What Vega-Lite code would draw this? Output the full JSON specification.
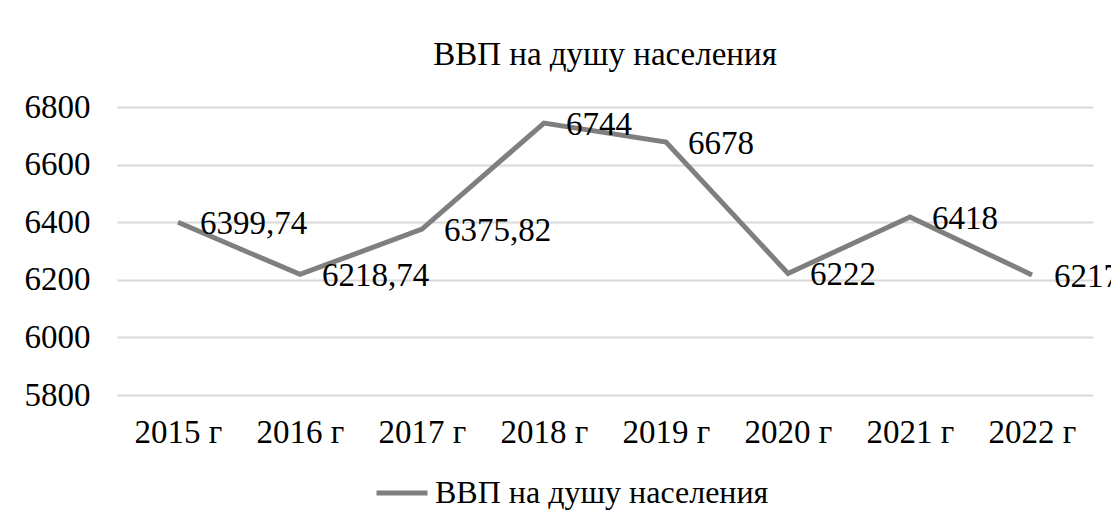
{
  "$schema": "https://vega.github.io/schema/vega-lite/v6.json",
  "width": 976,
  "height": 288,
  "autosize": "none",
  "padding": {"left": 117, "top": 107, "right": 18, "bottom": 132},
  "background": "white",
  "title": {
    "text": "ВВП на душу населения",
    "font": "Liberation Serif",
    "fontSize": 33,
    "fontWeight": "normal",
    "color": "#000000",
    "anchor": "middle",
    "baseline": "middle",
    "offset": 3
  },
  "data": {
    "values": [
      {"year": "2015 г", "value": 6399.74, "label": "6399,74"},
      {"year": "2016 г", "value": 6218.74, "label": "6218,74"},
      {"year": "2017 г", "value": 6375.82, "label": "6375,82"},
      {"year": "2018 г", "value": 6744, "label": "6744"},
      {"year": "2019 г", "value": 6678, "label": "6678"},
      {"year": "2020 г", "value": 6222, "label": "6222"},
      {"year": "2021 г", "value": 6418, "label": "6418"},
      {"year": "2022 г", "value": 6217, "label": "6217"}
    ]
  },
  "encoding": {
    "x": {
      "field": "year",
      "type": "ordinal",
      "sort": null,
      "scale": {"type": "point", "padding": 0.5},
      "axis": {
        "title": null,
        "labelAngle": 0,
        "domain": false,
        "ticks": false,
        "labelPadding": 21,
        "labelFont": "Liberation Serif",
        "labelFontSize": 33,
        "labelColor": "#000000"
      }
    },
    "y": {
      "field": "value",
      "type": "quantitative",
      "scale": {"domain": [5800, 6800], "nice": false, "zero": false},
      "axis": {
        "title": null,
        "values": [5800, 6000, 6200, 6400, 6600, 6800],
        "format": "d",
        "domain": false,
        "ticks": false,
        "labelPadding": 27,
        "labelFont": "Liberation Serif",
        "labelFontSize": 33,
        "labelColor": "#000000",
        "grid": true,
        "gridColor": "#d9d9d9",
        "gridWidth": 2
      }
    }
  },
  "layer": [
    {
      "mark": {"type": "line", "strokeWidth": 5, "strokeJoin": "miter"},
      "encoding": {
        "color": {
          "datum": "ВВП на душу населения",
          "type": "nominal",
          "scale": {"range": ["#7f7f7f"]},
          "legend": {
            "title": null,
            "orient": "none",
            "legendX": 257,
            "legendY": 358,
            "direction": "horizontal",
            "symbolType": "stroke",
            "symbolSize": 2601,
            "symbolStrokeWidth": 5,
            "labelFont": "Liberation Serif",
            "labelFontSize": 32,
            "labelColor": "#000000",
            "labelOffset": 5,
            "labelLimit": 0
          }
        }
      }
    },
    {
      "mark": {
        "type": "text",
        "align": "left",
        "baseline": "middle",
        "dx": 22,
        "dy": 2,
        "font": "Liberation Serif",
        "fontSize": 33,
        "color": "#000000"
      },
      "encoding": {"text": {"field": "label"}}
    }
  ],
  "config": {"view": {"stroke": null}}
}
